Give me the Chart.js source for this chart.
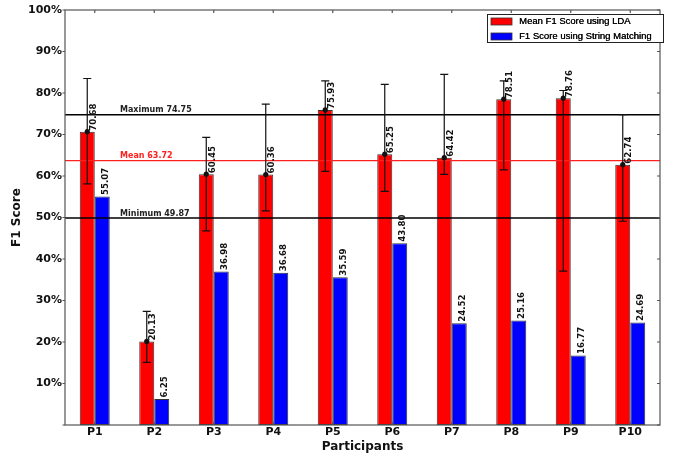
<!DOCTYPE html>
<html>
<head>
<meta charset="utf-8">
<script src="https://cdn.jsdelivr.net/npm/chart.js@4.4.1/dist/chart.umd.min.js"></script>
<style>
  html, body { margin: 0; padding: 0; background: #fff; }
  #wrap { width: 673px; height: 458px; }
</style>
</head>
<body>
<div id="wrap"><canvas id="f1Chart" width="673" height="458"></canvas></div>
<script>
// datos
const participants = ['P1', 'P2', 'P3', 'P4', 'P5', 'P6', 'P7', 'P8', 'P9', 'P10'];
const ldaScores = [70.68, 20.13, 60.45, 60.36, 75.93, 65.25, 64.42, 78.51, 78.76, 62.74];
const stringScores = [55.07, 6.25, 36.98, 36.68, 35.59, 43.80, 24.52, 25.16, 16.77, 24.69];
const ldaErrHigh = [83.5, 27.4, 69.3, 77.3, 82.9, 82.1, 84.5, 82.9, 80.6, 74.8];
const ldaErrLow = [58.1, 15.1, 46.8, 51.6, 61.1, 56.3, 60.4, 61.5, 37.1, 49.1];
const refLines = [
    { label: 'Maximum 74.75', value: 74.75, color: '#000000' },
    { label: 'Mean 63.72', value: 63.72, color: '#ff2020' },
    { label: 'Minimum 49.87', value: 49.87, color: '#000000' }
];
const seriesNames = ['Mean F1 Score using LDA', 'F1 Score using String Matching'];

const boldFont = 'bold 8.6px "DejaVu Sans"';

// lineas de referencia, barras de error, etiquetas, marco y leyenda
const extrasPlugin = {
    id: 'extras',
    afterDatasetsDraw(chart) {
        const ctx = chart.ctx;
        const area = chart.chartArea;
        const x = chart.scales.x;
        const y = chart.scales.y;
        const redMeta = chart.getDatasetMeta(0);
        const blueMeta = chart.getDatasetMeta(1);

        ctx.save();

        // lineas horizontales
        refLines.forEach(r => {
            const py = y.getPixelForValue(r.value);
            ctx.strokeStyle = r.color;
            ctx.lineWidth = r.color === '#000000' ? 1.5 : 1.3;
            ctx.beginPath();
            ctx.moveTo(area.left, py);
            ctx.lineTo(area.right, py);
            ctx.stroke();
            ctx.fillStyle = r.color === '#000000' ? '#222' : r.color;
            ctx.font = 'bold 8px "DejaVu Sans"';
            ctx.textAlign = 'left';
            ctx.textBaseline = 'alphabetic';
            ctx.fillText(r.label, area.left + 55, py - 2.5);
        });

        // barras de error
        ctx.strokeStyle = '#111';
        ctx.fillStyle = '#111';
        ctx.lineWidth = 1.2;
        redMeta.data.forEach((bar, i) => {
            const bx = bar.x;
            const top = y.getPixelForValue(ldaErrHigh[i]);
            const bot = y.getPixelForValue(ldaErrLow[i]);
            ctx.beginPath();
            ctx.moveTo(bx, top); ctx.lineTo(bx, bot);
            ctx.moveTo(bx - 4, top); ctx.lineTo(bx + 4, top);
            ctx.moveTo(bx - 4, bot); ctx.lineTo(bx + 4, bot);
            ctx.stroke();
            ctx.beginPath();
            ctx.arc(bx, y.getPixelForValue(ldaScores[i]), 2.6, 0, Math.PI * 2);
            ctx.fill();
        });

        // etiquetas de valores (verticales)
        ctx.fillStyle = '#111';
        ctx.font = boldFont;
        ctx.textAlign = 'left';
        ctx.textBaseline = 'middle';
        const drawLabel = (px, py, txt) => {
            ctx.save();
            ctx.translate(px, py);
            ctx.rotate(-Math.PI / 2);
            ctx.fillText(txt, 0, 0);
            ctx.restore();
        };
        redMeta.data.forEach((bar, i) => {
            drawLabel(bar.x + 6.5, bar.y - 1, ldaScores[i].toFixed(2));
        });
        blueMeta.data.forEach((bar, i) => {
            drawLabel(bar.x + 3.5, bar.y - 1.5, stringScores[i].toFixed(2));
        });

        // marco y marcas de ejes
        ctx.strokeStyle = '#555';
        ctx.lineWidth = 1.2;
        ctx.strokeRect(area.left, area.top, area.right - area.left, area.bottom - area.top);
        ctx.beginPath();
        participants.forEach((p, i) => {
            const px = x.getPixelForValue(i);
            ctx.moveTo(px, area.top); ctx.lineTo(px, area.top + 3);
            ctx.moveTo(px, area.bottom); ctx.lineTo(px, area.bottom - 3);
        });
        y.ticks.forEach(t => {
            const py = y.getPixelForValue(t.value);
            ctx.moveTo(area.right, py); ctx.lineTo(area.right - 3, py);
            ctx.moveTo(area.left, py); ctx.lineTo(area.left - 2.5, py);
        });
        ctx.stroke();

        // leyenda
        const lx = 487, ly = 14, lw = 176, lh = 28;
        ctx.fillStyle = '#fff';
        ctx.fillRect(lx, ly, lw, lh);
        ctx.strokeStyle = '#222';
        ctx.lineWidth = 1;
        ctx.strokeRect(lx + 0.5, ly + 0.5, lw, lh);
        ctx.font = '9.5px "Liberation Sans"';
        ctx.textBaseline = 'middle';
        chart.data.datasets.forEach((ds, i) => {
            const ry = ly + 7 + i * 15;
            ctx.fillStyle = ds.backgroundColor;
            ctx.fillRect(lx + 4, ry - 3, 21, 7);
            ctx.strokeStyle = '#333';
            ctx.lineWidth = 0.8;
            ctx.strokeRect(lx + 4, ry - 3, 21, 7);
            ctx.fillStyle = '#000';
            ctx.fillText(ds.label, lx + 32, ry + 0.5);
            ctx.fillText(ds.label, lx + 32.3, ry + 0.5);
        });

        ctx.restore();
    }
};

new Chart(document.getElementById('f1Chart').getContext('2d'), {
    type: 'bar',
    data: {
        labels: participants,
        datasets: [{
            label: seriesNames[0],
            data: ldaScores,
            backgroundColor: '#ff0000',
            borderColor: '#333',
            borderWidth: 1,
            borderSkipped: false
        }, {
            label: seriesNames[1],
            data: stringScores,
            backgroundColor: '#0000ff',
            borderColor: '#333',
            borderWidth: 1,
            borderSkipped: false
        }]
    },
    options: {
        responsive: false,
        animation: false,
        devicePixelRatio: 1,
        categoryPercentage: 0.504,
        barPercentage: 1.0,
        layout: { padding: { top: 10, right: 13, left: 0, bottom: 0 } },
        plugins: {
            legend: { display: false },
            tooltip: { enabled: false }
        },
        scales: {
            x: {
                grid: { display: false, drawTicks: false },
                border: { display: false },
                ticks: {
                    color: '#111',
                    font: { family: 'DejaVu Sans', size: 11, weight: 'bold' },
                    padding: 1,
                    maxRotation: 0
                },
                title: {
                    display: true,
                    text: 'Participants',
                    color: '#111',
                    font: { family: 'DejaVu Sans', size: 12, weight: 'bold' },
                    padding: { top: 0, bottom: 4 }
                },
                afterFit(scale) { scale.height = 33; }
            },
            y: {
                min: 0,
                max: 100,
                grid: { display: false, drawTicks: false },
                border: { display: false },
                ticks: {
                    stepSize: 10,
                    color: '#111',
                    font: { family: 'DejaVu Sans', size: 11, weight: 'bold' },
                    padding: 3,
                    callback: v => v === 0 ? '' : v + '%'
                },
                title: {
                    display: true,
                    text: 'F1 Score',
                    color: '#111',
                    font: { family: 'DejaVu Sans', size: 12, weight: 'bold' },
                    padding: { top: 10, bottom: 0 }
                },
                afterFit(scale) { scale.width = 65; }
            }
        }
    },
    plugins: [extrasPlugin]
});
</script>
</body>
</html>
